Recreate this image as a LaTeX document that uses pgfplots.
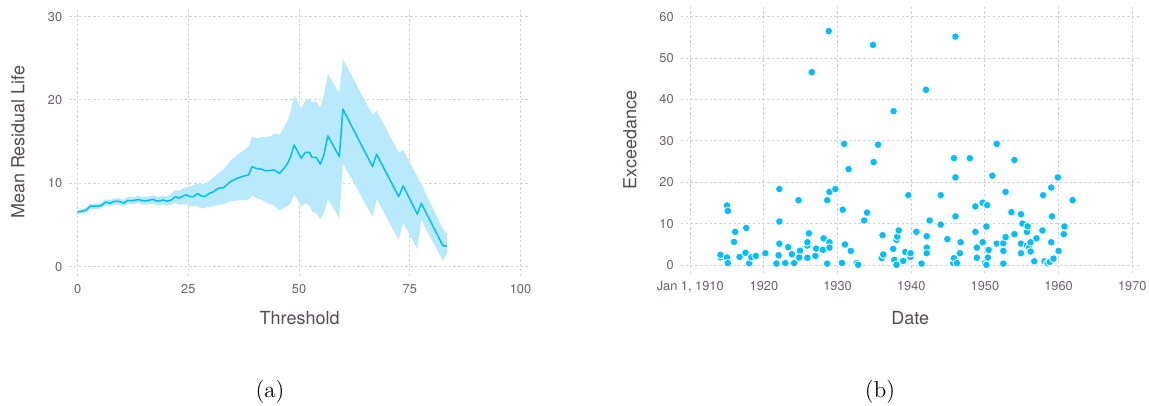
\documentclass[border=0pt]{standalone}
\usepackage{fontspec}
\usepackage{pgfplots}
\usepackage{pgfplotstable}
\pgfplotsset{compat=1.18}

\newfontfamily\plotfont{TeX Gyre Heros}

\definecolor{sky}{HTML}{00BFFF}
\definecolor{band}{HTML}{B8E9FD}
\definecolor{gridc}{HTML}{D0D0E0}
\definecolor{ticktext}{HTML}{6C606B}
\definecolor{labeltext}{HTML}{564A55}

% mean residual life by threshold
\pgfplotstableread{
t     m
0.0   6.55
1.2   6.68
2.0   6.80
2.8   7.25
4.7   7.25
5.5   7.40
6.3   7.73
7.4   7.62
8.2   7.82
9.5   7.82
10.4  7.62
11.2  7.92
12.4  7.92
13.8  8.05
14.9  7.88
16.0  7.95
17.0  8.08
18.0  7.85
19.3  8.00
20.2  7.86
21.0  7.95
22.1  8.42
22.9  8.22
24.4  8.62
25.5  8.40
26.2  8.42
27.1  8.78
28.1  8.42
28.8  8.42
29.8  8.82
30.5  8.92
31.8  9.42
33.0  9.48
34.5 10.20
36.0 10.60
37.7 10.90
38.6 11.00
39.4 12.00
40.5 11.75
41.6 11.70
42.4 11.50
43.6 11.55
44.4 11.60
45.6 11.20
46.6 11.80
47.4 12.40
48.1 13.20
48.9 14.60
50.5 13.00
51.4 13.70
52.4 13.70
52.9 13.10
53.9 13.10
54.8 12.30
55.6 13.40
56.5 15.70
59.1 13.20
59.9 18.90
66.6 12.00
67.5 13.50
72.5  8.40
73.5  9.70
76.7  6.30
77.6  7.60
82.5  2.50
83.4  2.50
}\mrl

% confidence band outline: lower bound left to right, upper bound right to left
\pgfplotstableread{
t     v
0.0   6.30
1.2   6.42
2.0   6.52
2.8   6.95
4.7   6.93
5.5   7.06
6.3   7.37
7.4   7.25
8.2   7.44
9.5   7.43
10.4  7.22
11.2  7.50
12.4  7.49
13.8  7.60
14.9  7.42
16.0  7.47
17.0  7.58
18.0  7.34
19.3  7.47
20.2  7.31
21.0  7.42
22.1  7.62
22.9  7.45
24.4  7.50
25.5  7.22
26.2  7.30
27.1  7.25
28.1  6.98
28.8  7.08
29.8  7.20
30.5  7.25
31.8  7.40
33.0  7.50
34.5  7.85
36.0  7.95
37.7  7.95
38.6  8.05
39.4  8.50
40.5  8.20
41.6  8.00
42.4  7.75
43.6  7.50
44.4  7.35
45.6  6.75
46.6  7.00
47.4  7.30
48.1  7.60
48.9  8.70
50.5  7.20
51.4  7.60
52.4  7.30
52.9  6.60
53.9  6.40
54.8  5.70
55.6  6.40
56.5  8.10
59.1  5.80
59.9 12.40
66.6  6.00
67.5  8.10
72.5  3.20
73.5  5.30
76.7  2.10
77.6  5.60
82.5  0.70
83.4  1.60
83.4  4.00
82.5  4.50
77.6  9.90
76.7 10.80
73.5 14.00
72.5 13.70
67.5 18.70
66.6 18.20
59.9 24.90
59.1 20.80
56.5 23.10
55.6 20.60
54.8 19.10
53.9 19.80
52.9 19.70
52.4 20.20
51.4 19.90
50.5 19.00
48.9 20.50
48.1 18.60
47.4 17.50
46.6 16.70
45.6 15.85
44.4 15.95
43.6 15.65
42.4 15.50
41.6 15.55
40.5 15.40
39.4 15.60
38.6 14.40
37.7 14.00
36.0 13.40
34.5 12.70
33.0 11.70
31.8 11.20
30.5 10.60
29.8 10.35
28.8 10.00
28.1  9.90
27.1  9.95
26.2  9.80
25.5  9.62
24.4  9.55
22.9  9.10
22.1  9.22
21.0  8.70
20.2  8.41
19.3  8.53
18.0  8.36
17.0  8.58
16.0  8.43
14.9  8.34
13.8  8.50
12.4  8.35
11.2  8.32
10.4  8.03
9.5   8.21
8.2   8.20
7.4   7.99
6.3   8.08
5.5   7.74
4.7   7.58
2.8   7.56
2.0   7.10
1.2   6.96
0.0   6.82
}\band

% exceedances over the threshold, by date (decimal years)
\pgfplotstableread{
date     exc
1914.1   1.9
1914.1   2.5
1915.0  14.4
1915.1  13.1
1915.0   1.85
1915.1   0.5
1916.1   8.05
1915.95  5.6
1916.7   2.0
1917.6   9.0
1917.5   3.0
1918.0   0.5
1918.3   1.9
1918.9   2.25
1920.2   2.9
1921.7   0.4
1922.0   2.4
1922.1  18.4
1922.1  10.55
1922.1   5.2
1922.9   0.5
1923.3   4.35
1923.8   2.65
1924.1   0.5
1924.7  15.7
1924.9   3.5
1924.8   1.85
1925.9   1.8
1925.9   4.75
1925.9   5.55
1926.1   7.7
1926.5  46.6
1927.0   2.25
1927.1   4.0
1928.0   3.7
1928.1   6.5
1928.6  15.7
1928.6   0.4
1928.8  56.5
1928.9  17.7
1928.9   5.55
1928.9   4.25
1929.7  18.4
1930.6   0.55
1930.7  13.4
1930.9  29.3
1931.0   5.0
1931.5  23.2
1931.8   3.45
1932.6   0.5
1932.8   0.1
1933.6  10.8
1934.0  12.7
1934.8  53.2
1934.9  24.9
1935.5  29.1
1936.0   1.7
1936.2   2.6
1936.1   7.25
1937.6  37.2
1937.55  3.95
1937.7   1.3
1938.0   0.1
1938.0   6.1
1938.1   6.9
1938.3   8.4
1938.9   1.05
1939.2   3.2
1939.6  16.9
1939.9   2.0
1939.9   2.9
1940.7   8.05
1941.4   0.4
1942.0  42.35
1942.1   7.0
1942.1   4.25
1942.1   2.9
1942.5  10.8
1944.0  16.9
1944.0   9.8
1944.9   6.3
1945.7   0.5
1945.8   1.7
1945.8  25.85
1946.0  55.2
1946.0  21.2
1946.0  11.8
1946.2   0.5
1946.6   2.9
1946.7   5.55
1947.95 25.85
1948.7  14.2
1948.7   8.05
1948.9   4.25
1948.9   1.8
1949.7  15.1
1949.7   5.55
1950.0   0.5
1950.2   0.1
1950.3  14.5
1950.2   9.35
1950.5   3.7
1950.4   1.85
1951.0  21.6
1951.6  29.3
1951.6   5.2
1952.5   5.3
1952.5   3.45
1952.5   0.4
1952.8   6.8
1952.8  17.7
1953.6  12.8
1954.0  25.4
1954.0   7.5
1954.9  12.3
1954.9   5.2
1954.9   2.9
1955.1  10.05
1955.7   8.05
1955.8   9.4
1955.7   4.75
1956.0   4.25
1956.2   5.55
1956.2   3.3
1956.7   0.95
1957.0   6.5
1957.8   8.4
1957.9  16.9
1958.1   0.95
1958.5   0.5
1958.8   0.8
1959.0  18.75
1959.0   5.55
1959.1  11.8
1959.3   1.6
1959.9  21.2
1960.0   3.45
1960.7   7.5
1960.8   9.35
1961.9  15.7
}\exceed

\pgfplotsset{
  panel/.style={
    scale only axis,
    anchor=south west,
    axis line style={draw=none},
    major tick length=0pt,
    grid=major,
    major grid style={gridc, line width=0.5pt, dash pattern=on 1.2pt off 1.2pt},
    tick label style={font=\plotfont\fontsize{6.4}{7.6}\selectfont, text=ticktext},
    xticklabel style={yshift=-0.8pt},
    /pgf/number format/assume math mode=true,
    /pgf/number format/1000 sep={},
    label style={font=\plotfont\fontsize{9}{11}\selectfont, text=labeltext},
  }
}

\begin{document}
\begin{tikzpicture}
\useasboundingbox (0pt,0pt) rectangle (574.5pt,203pt);

% (a) mean residual life plot
\begin{axis}[panel,
  at={(34.65pt,65pt)}, width=230.35pt, height=133.85pt,
  xmin=-1.87, xmax=102.14, ymin=-1.12, ymax=31.0,
  xtick={0,25,50,75,100}, ytick={0,10,20,30},
  xlabel={Threshold}, ylabel={Mean Residual Life},
  xlabel style={at={(axis description cs:0.5,-0.157)}, anchor=center},
  ylabel style={at={(axis description cs:-0.1114,0.5)}, anchor=center},
]
\addplot[fill=band, draw=none, mark=none] table[x=t, y=v]{\band} -- cycle;
\addplot[sky, line width=0.75pt, line join=round, mark=none] table[x=t, y=m]{\mrl};
\end{axis}

% (b) exceedances over time
\begin{axis}[panel,
  at={(340.35pt,66.5pt)}, width=229.65pt, height=132.85pt,
  xmin=1908.71, xmax=1971.05, ymin=-1.88, ymax=62.27,
  xtick={1910,1920,1930,1940,1950,1960,1970},
  xticklabels={{Jan 1, 1910},1920,1930,1940,1950,1960,1970},
  ytick={0,10,20,30,40,50,60},
  xlabel={Date}, ylabel={Exceedance},
  xlabel style={at={(axis description cs:0.5,-0.169)}, anchor=center},
  ylabel style={at={(axis description cs:-0.1108,0.5)}, anchor=center},
]
\addplot[only marks, mark=*, mark size=1.95pt,
  mark options={fill=sky, draw=white, line width=0.45pt}]
  table[x=date, y=exc]{\exceed};
\end{axis}

\node[font=\fontsize{11.5}{14}\selectfont] at (135pt,7.15pt) {(a)};
\node[font=\fontsize{11.5}{14}\selectfont] at (440pt,7.15pt) {(b)};
\end{tikzpicture}
\end{document}
